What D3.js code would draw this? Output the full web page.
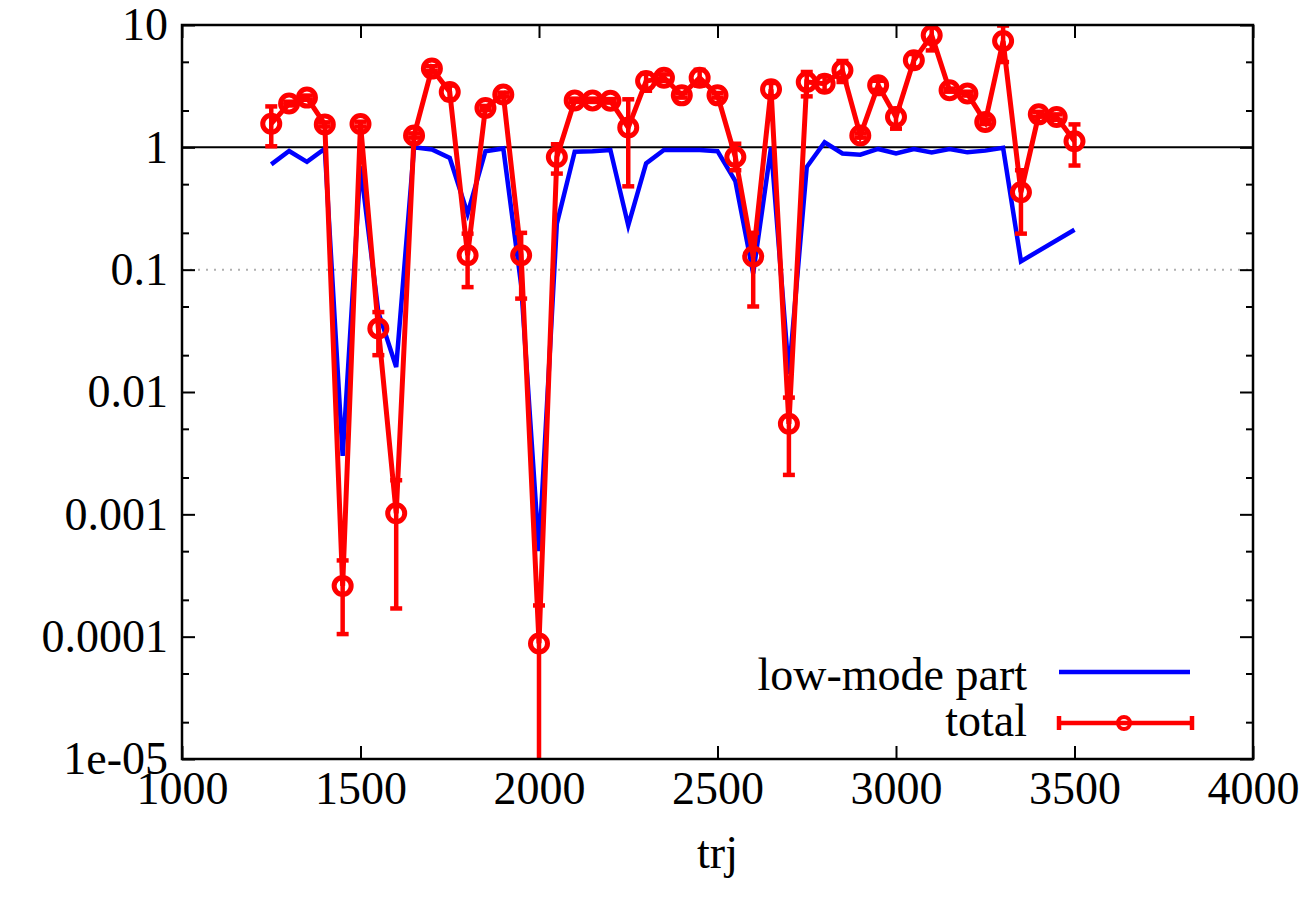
<!DOCTYPE html>
<html>
<head>
<meta charset="utf-8">
<script src="https://cdn.jsdelivr.net/npm/d3@7"></script>
<style>
  body { margin: 0; background: #fff; }
  svg text { font-family: "Liberation Serif", "Times New Roman", serif; fill: #000; }
</style>
</head>
<body>
<div id="chart"></div>
<script>
// trajectory numbers (x)
const trj = [1250, 1300, 1350, 1400, 1450, 1500, 1550, 1600, 1650, 1700, 1750, 1800, 1850, 1900, 1950, 2000,
             2050, 2100, 2150, 2200, 2250, 2300, 2350, 2400, 2450, 2500, 2550, 2600, 2650, 2700, 2750, 2800,
             2850, 2900, 2950, 3000, 3050, 3100, 3150, 3200, 3250, 3300, 3350, 3400, 3450, 3500];
// total, with error bar ends
const total = [1.56, 2.28, 2.55, 1.54, 2.6e-4, 1.55, 0.033, 0.00102, 1.25, 4.4, 2.83, 0.131, 2.1, 2.7, 0.131, 8.8e-5,
               0.833, 2.42, 2.42, 2.4, 1.45, 3.48, 3.71, 2.66, 3.71, 2.66, 0.833, 0.128, 2.98, 0.0055, 3.42, 3.31,
               4.26, 1.25, 3.21, 1.77, 5.15, 8.24, 2.93, 2.75, 1.61, 7.4, 0.43, 1.86, 1.77, 1.12];
const totalLo = [1.02, 2.2, 2.45, 1.48, 1.05e-4, 1.48, 0.02, 0.00017, 1.2, 4.2, 2.47, 0.072, 2.02, 2.6, 0.058, 5e-6,
                 0.61, 2.35, 2.35, 2.32, 0.48, 2.9, 3.5, 2.55, 3.2, 2.55, 0.65, 0.05, 2.61, 0.0021, 2.61, 2.89,
                 3.42, 1.2, 2.95, 1.42, 4.5, 6.2, 2.85, 2.65, 1.55, 4.98, 0.197, 1.78, 1.68, 0.71];
const totalHi = [2.16, 2.36, 2.65, 1.6, 4.2e-4, 1.62, 0.045, 0.0019, 1.3, 4.6, 3.2, 0.197, 2.18, 2.8, 0.2, 1.8e-4,
                 1.06, 2.5, 2.5, 2.48, 2.47, 4.0, 3.95, 2.78, 4.3, 2.78, 1.07, 0.2, 3.36, 0.009, 4.13, 3.81,
                 5.08, 1.3, 3.5, 2.07, 5.8, 10.2, 3.02, 2.85, 1.68, 9.9, 0.65, 1.95, 1.86, 1.54];
// low-mode part (no points at 3400, 3450)
const trjLow = [1250, 1300, 1350, 1400, 1450, 1500, 1550, 1600, 1650, 1700, 1750, 1800, 1850, 1900, 1950, 2000,
                2050, 2100, 2150, 2200, 2250, 2300, 2350, 2400, 2450, 2500, 2550, 2600, 2650, 2700, 2750, 2800,
                2850, 2900, 2950, 3000, 3050, 3100, 3150, 3200, 3250, 3300, 3350, 3500];
const lowMode = [0.726, 0.933, 0.76, 0.975, 0.003, 0.7, 0.045, 0.016, 1.0, 0.96, 0.82, 0.287, 0.93, 0.98, 0.075, 5e-4,
                 0.238, 0.92, 0.93, 0.95, 0.23, 0.74, 0.95, 0.95, 0.95, 0.93, 0.53, 0.093, 1.0, 0.014, 0.69, 1.1,
                 0.89, 0.87, 0.97, 0.89, 0.97, 0.91, 0.97, 0.91, 0.94, 0.99, 0.117, 0.212];

const xTicks = [1000, 1500, 2000, 2500, 3000, 3500, 4000];
const yTicks = [1e-5, 1e-4, 1e-3, 1e-2, 0.1, 1, 10];
const yLabels = ["1e-05", "0.0001", "0.001", "0.01", "0.1", "1", "10"];
const yMinor = [2e-5, 5e-5, 2e-4, 5e-4, 2e-3, 5e-3, 2e-2, 5e-2, 0.2, 0.5, 2, 5];

const W = 1307, H = 912;
const m = {left: 182, right: 1253, top: 25, bottom: 759};
const fs = 46;

const svg = d3.select("#chart").append("svg").attr("width", W).attr("height", H);

const x = d3.scaleLinear().domain([1000, 4000]).range([m.left, m.right]);
const y = d3.scaleLog().domain([1e-5, 10]).range([m.bottom, m.top]);

// dotted grid at 0.1, solid line at 1
svg.append("line")
    .attr("x1", m.left).attr("x2", m.right)
    .attr("y1", y(0.1)).attr("y2", y(0.1))
    .attr("stroke", "#b0b0b0").attr("stroke-width", 2).attr("stroke-dasharray", "2,6");
svg.append("line")
    .attr("x1", m.left).attr("x2", m.right)
    .attr("y1", y(1)).attr("y2", y(1))
    .attr("stroke", "#000").attr("stroke-width", 2);

function styleAxis(g) {
    g.selectAll(".domain").remove();
    g.selectAll(".tick line").attr("stroke", "#000").attr("stroke-width", 2);
    g.selectAll(".tick text").attr("font-size", fs).attr("font-family", "Liberation Serif");
}

// left axis
svg.append("g").attr("transform", `translate(${m.left},0)`)
    .call(d3.axisLeft(y).tickValues(yTicks).tickSize(-13).tickPadding(14)
        .tickFormat((d, i) => yLabels[i]))
    .call(styleAxis);
svg.append("g").attr("transform", `translate(${m.left},0)`)
    .call(d3.axisLeft(y).tickValues(yMinor).tickSize(-7).tickFormat(""))
    .call(styleAxis);
// right axis
svg.append("g").attr("transform", `translate(${m.right},0)`)
    .call(d3.axisRight(y).tickValues(yTicks).tickSize(-13).tickFormat(""))
    .call(styleAxis);
svg.append("g").attr("transform", `translate(${m.right},0)`)
    .call(d3.axisRight(y).tickValues(yMinor).tickSize(-7).tickFormat(""))
    .call(styleAxis);
// bottom axis
svg.append("g").attr("transform", `translate(0,${m.bottom})`)
    .call(d3.axisBottom(x).tickValues(xTicks).tickSize(-13).tickPadding(12).tickFormat(d3.format("d")))
    .call(styleAxis);
// top axis
svg.append("g").attr("transform", `translate(0,${m.top})`)
    .call(d3.axisTop(x).tickValues(xTicks).tickSize(-13).tickFormat(""))
    .call(styleAxis);

svg.append("text")
    .attr("x", (m.left + m.right) / 2).attr("y", 868)
    .attr("text-anchor", "middle").attr("font-size", fs)
    .text("trj");

// clip to plot
svg.append("clipPath").attr("id", "clip")
    .append("rect").attr("x", m.left).attr("y", m.top)
    .attr("width", m.right - m.left).attr("height", m.bottom - m.top);

const plot = svg.append("g").attr("clip-path", "url(#clip)");

const red = "#ff0000", blue = "#0000ff";

// low-mode line
const lowData = trjLow.map((t, i) => ({t, v: lowMode[i]}));
plot.append("path")
    .datum(lowData)
    .attr("fill", "none").attr("stroke", blue).attr("stroke-width", 4.5)
    .attr("d", d3.line().x(d => x(d.t)).y(d => y(d.v)));

// total line
const totData = trj.map((t, i) => ({t, v: total[i], lo: totalLo[i], hi: totalHi[i]}));
plot.append("path")
    .datum(totData)
    .attr("fill", "none").attr("stroke", red).attr("stroke-width", 5)
    .attr("d", d3.line().x(d => x(d.t)).y(d => y(d.v)));

// error bars
const eb = plot.selectAll("g.eb").data(totData).enter().append("g").attr("class", "eb");
eb.append("line")
    .attr("x1", d => x(d.t)).attr("x2", d => x(d.t))
    .attr("y1", d => y(d.lo)).attr("y2", d => y(d.hi))
    .attr("stroke", red).attr("stroke-width", 4.5);
eb.append("line")
    .attr("x1", d => x(d.t) - 6).attr("x2", d => x(d.t) + 6)
    .attr("y1", d => y(d.lo)).attr("y2", d => y(d.lo))
    .attr("stroke", red).attr("stroke-width", 4.5);
eb.append("line")
    .attr("x1", d => x(d.t) - 6).attr("x2", d => x(d.t) + 6)
    .attr("y1", d => y(d.hi)).attr("y2", d => y(d.hi))
    .attr("stroke", red).attr("stroke-width", 4.5);

// point markers
plot.selectAll("circle.pt").data(totData).enter().append("circle")
    .attr("class", "pt")
    .attr("cx", d => x(d.t)).attr("cy", d => y(d.v)).attr("r", 8.5)
    .attr("fill", "none").attr("stroke", red).attr("stroke-width", 5);

// frame
svg.append("rect")
    .attr("x", m.left).attr("y", m.top)
    .attr("width", m.right - m.left).attr("height", m.bottom - m.top)
    .attr("fill", "none").attr("stroke", "#000").attr("stroke-width", 2.5);

// legend
const leg = svg.append("g");
leg.append("text").attr("x", 1027).attr("y", 674).attr("dy", "0.35em")
    .attr("text-anchor", "end").attr("font-size", fs).text("low-mode part");
leg.append("line").attr("x1", 1059).attr("x2", 1190).attr("y1", 672).attr("y2", 672)
    .attr("stroke", blue).attr("stroke-width", 4.5);
leg.append("text").attr("x", 1027).attr("y", 720).attr("dy", "0.35em")
    .attr("text-anchor", "end").attr("font-size", fs).text("total");
leg.append("line").attr("x1", 1059).attr("x2", 1192).attr("y1", 723).attr("y2", 723)
    .attr("stroke", red).attr("stroke-width", 4.5);
[1059, 1192].forEach(cx => {
    leg.append("line").attr("x1", cx).attr("x2", cx).attr("y1", 716).attr("y2", 730)
        .attr("stroke", red).attr("stroke-width", 4.5);
});
leg.append("circle").attr("cx", 1124).attr("cy", 723).attr("r", 6)
    .attr("fill", "none").attr("stroke", red).attr("stroke-width", 4);
</script>
</body>
</html>
